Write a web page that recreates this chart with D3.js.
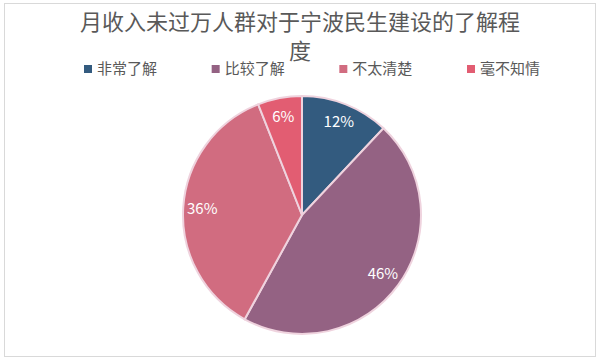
<!DOCTYPE html>
<html>
<head>
<meta charset="utf-8">
<script src="https://cdn.jsdelivr.net/npm/d3@7"></script>
<style>
  body { margin: 0; background: #fff; }
  text { font-family: "Noto Sans CJK SC", "Microsoft YaHei", sans-serif; }
</style>
</head>
<body>
<script>
const categories = ['非常了解', '比较了解', '不太清楚', '毫不知情'];
const values = [12, 46, 36, 6];
const colors = ['#335b7f', '#946283', '#d16c80', '#e25d72'];
const titleLines = ['月收入未过万人群对于宁波民生建设的了解程', '度'];

const width = 600, height = 362;

const svg = d3.select('body')
  .append('svg')
  .attr('width', width)
  .attr('height', height);

svg.append('rect')
  .attr('x', 4.5).attr('y', 3.5)
  .attr('width', 591).attr('height', 353)
  .attr('fill', '#fff')
  .attr('stroke', '#d9d9d9')
  .attr('stroke-width', 1);

// title
svg.append('g')
  .selectAll('text')
  .data(titleLines)
  .join('text')
  .attr('x', 300)
  .attr('y', (d, i) => 30 + i * 29)
  .attr('text-anchor', 'middle')
  .attr('font-size', 22)
  .attr('fill', '#595959')
  .text(d => d);

// legend
const legendX = d3.scalePoint()
  .domain(categories)
  .range([84, 467]);

const legend = svg.append('g')
  .selectAll('g')
  .data(categories)
  .join('g')
  .attr('transform', d => 'translate(' + legendX(d) + ',65)');

legend.append('rect')
  .attr('width', 8).attr('height', 8)
  .attr('fill', (d, i) => colors[i]);

legend.append('text')
  .attr('x', 13)
  .attr('y', 9)
  .attr('font-size', 15)
  .attr('fill', '#595959')
  .text(d => d);

// pie
const cx = 302, cy = 215, r = 119;

const pie = d3.pie().sort(null).value(d => d);
const arc = d3.arc().innerRadius(0).outerRadius(r);
const labelArc = d3.arc().innerRadius(r * 0.84).outerRadius(r * 0.84);

const g = svg.append('g')
  .attr('transform', 'translate(' + cx + ',' + cy + ')');

const arcs = pie(values);

g.selectAll('path')
  .data(arcs)
  .join('path')
  .attr('d', arc)
  .attr('fill', (d, i) => colors[i])
  .attr('stroke', '#efd3de')
  .attr('stroke-width', 2);

g.selectAll('text')
  .data(arcs)
  .join('text')
  .attr('transform', d => 'translate(' + labelArc.centroid(d) + ')')
  .attr('text-anchor', 'middle')
  .attr('dy', '0.35em')
  .attr('font-size', 15)
  .attr('fill', '#fff')
  .text(d => d.data + '%');
</script>
</body>
</html>
